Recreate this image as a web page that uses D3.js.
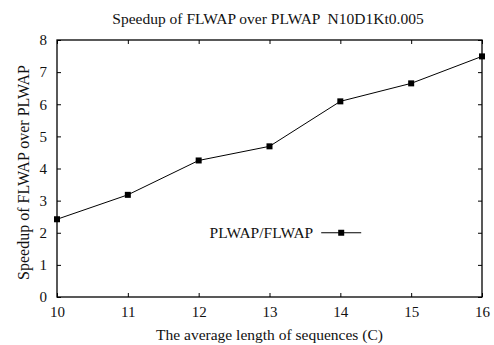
<!DOCTYPE html>
<html>
<head>
<meta charset="utf-8">
<script src="https://cdn.jsdelivr.net/npm/d3@7"></script>
<style>
  body { margin: 0; background: #fff; }
  svg text { font-family: "Liberation Serif", "Times New Roman", Times, serif !important; fill: #111; }
</style>
</head>
<body>
<div id="wrapper"></div>
<script>
// data
const lengths = [10, 11, 12, 13, 14, 15, 16]
const speedups = [2.42, 3.18, 4.25, 4.69, 6.09, 6.65, 7.49]
const xTicks = [10, 11, 12, 13, 14, 15, 16]
const yTicks = [0, 1, 2, 3, 4, 5, 6, 7, 8]
const seriesName = "PLWAP/FLWAP"

const dataset = lengths.map((c, i) => ({ c, v: speedups[i] }))

const dimensions = {
  width: 494,
  height: 345,
  margin: { top: 40, right: 12, bottom: 48, left: 57 },
}
dimensions.boundedWidth = dimensions.width - dimensions.margin.left - dimensions.margin.right
dimensions.boundedHeight = dimensions.height - dimensions.margin.top - dimensions.margin.bottom

const wrapper = d3.select("#wrapper")
  .append("svg")
    .attr("width", dimensions.width)
    .attr("height", dimensions.height)

const bounds = wrapper.append("g")
    .attr("transform", `translate(${dimensions.margin.left},${dimensions.margin.top})`)

const xScale = d3.scaleLinear()
    .domain([10, 16])
    .range([0, dimensions.boundedWidth])
const yScale = d3.scaleLinear()
    .domain([0, 8])
    .range([dimensions.boundedHeight, 0])

const tickLen = 4
// gnuplot style: ticks inward on every side, labels on left/bottom only
const xAxisBottom = d3.axisBottom(xScale).tickValues(xTicks).tickSize(-tickLen).tickPadding(9).tickFormat(d3.format("d"))
const xAxisTop = d3.axisTop(xScale).tickValues(xTicks).tickSize(-tickLen).tickFormat("")
const yAxisLeft = d3.axisLeft(yScale).tickValues(yTicks).tickSize(-tickLen).tickPadding(10).tickFormat(d3.format("d"))
const yAxisRight = d3.axisRight(yScale).tickValues(yTicks).tickSize(-tickLen).tickFormat("")

const axes = [
  bounds.append("g").attr("transform", `translate(0,${dimensions.boundedHeight})`).call(xAxisBottom),
  bounds.append("g").call(xAxisTop),
  bounds.append("g").call(yAxisLeft),
  bounds.append("g").attr("transform", `translate(${dimensions.boundedWidth},0)`).call(yAxisRight),
]
axes.forEach(a => {
  a.attr("font-family", null).attr("font-size", null)
  a.select(".domain").remove()
  a.selectAll("line").attr("stroke", "#000")
  a.selectAll("text").style("font-size", "15px").attr("fill", "#111")
})

bounds.append("rect")
    .attr("width", dimensions.boundedWidth)
    .attr("height", dimensions.boundedHeight)
    .attr("fill", "none")
    .attr("stroke", "#000")
    .attr("stroke-width", 1.3)

const lineGenerator = d3.line()
  .x(d => xScale(d.c))
  .y(d => yScale(d.v))

bounds.append("path")
    .attr("d", lineGenerator(dataset))
    .attr("fill", "none")
    .attr("stroke", "#000")
    .attr("stroke-width", 1)

const m = 6
bounds.selectAll(".pt")
  .data(dataset)
  .join("rect")
    .attr("class", "pt")
    .attr("x", d => xScale(d.c) - m / 2)
    .attr("y", d => yScale(d.v) - m / 2)
    .attr("width", m)
    .attr("height", m)
    .attr("fill", "#000")

// legend
const legend = bounds.append("g")
    .attr("transform", `translate(${xScale(13.73)},${yScale(2)})`)
legend.append("text")
    .attr("x", -8)
    .attr("dy", "0.35em")
    .attr("text-anchor", "end")
    .style("font-size", "15.5px")
    .text(seriesName)
legend.append("line")
    .attr("x1", 0).attr("x2", 40)
    .attr("stroke", "#000")
legend.append("rect")
    .attr("x", 20 - m / 2).attr("y", -m / 2)
    .attr("width", m).attr("height", m)
    .attr("fill", "#000")

wrapper.append("text")
    .attr("x", 268)
    .attr("y", 24)
    .attr("text-anchor", "middle")
    .style("font-size", "15.5px")
    .style("white-space", "pre")
    .text("Speedup of FLWAP over PLWAP  N10D1Kt0.005")

wrapper.append("text")
    .attr("x", dimensions.margin.left + dimensions.boundedWidth / 2)
    .attr("y", 340)
    .attr("text-anchor", "middle")
    .style("font-size", "15.5px")
    .text("The average length of sequences (C)")

wrapper.append("text")
    .attr("transform", `translate(29,${dimensions.margin.top + dimensions.boundedHeight / 2 + 4}) rotate(-90)`)
    .attr("text-anchor", "middle")
    .style("font-size", "16px")
    .text("Speedup of FLWAP over PLWAP")
</script>
</body>
</html>
